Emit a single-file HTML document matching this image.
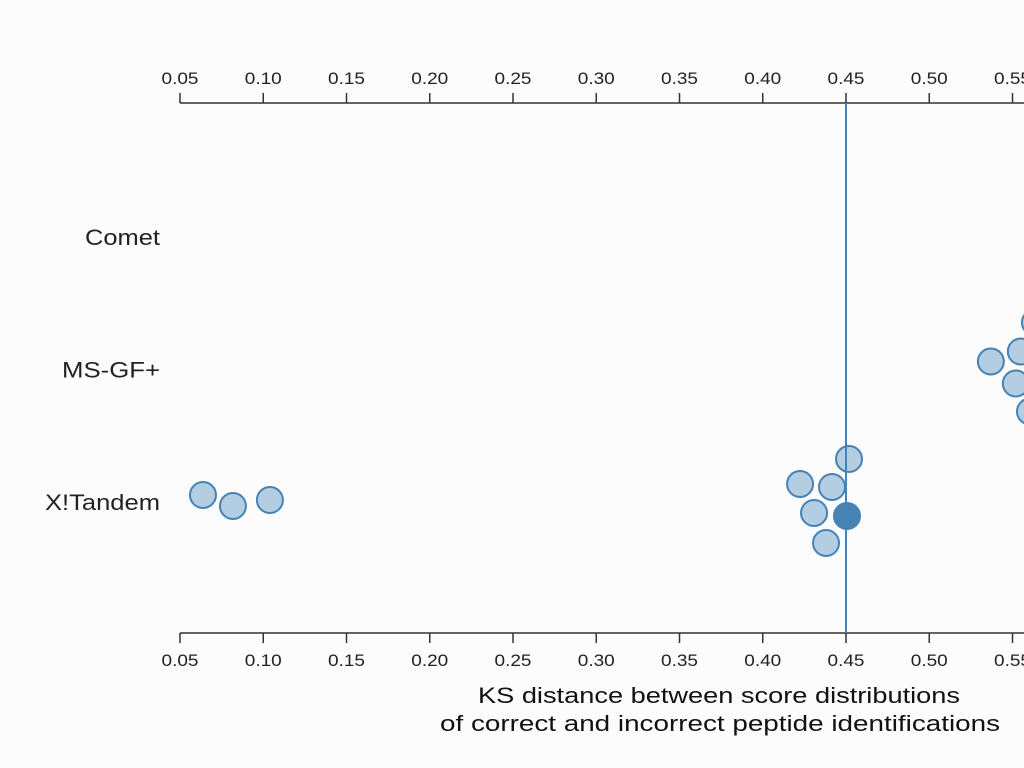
<!DOCTYPE html>
<html><head><meta charset="utf-8"><style>
html,body{margin:0;padding:0;background:#fcfcfc;overflow:hidden}
svg{display:block;font-family:"Liberation Sans",Helvetica,sans-serif}
</style></head><body>
<svg id="chart" width="1024" height="768">
<g id="axes"></g><g id="marks"></g>
</svg>
<script>
const categories = ["Comet", "MS-GF+", "X!Tandem"];
const pointCategory = ["MS-GF+","MS-GF+","MS-GF+","MS-GF+","MS-GF+","X!Tandem","X!Tandem","X!Tandem","X!Tandem","X!Tandem","X!Tandem","X!Tandem","X!Tandem","X!Tandem"];
const pointValues = [0.537,0.555,0.552,0.5605,0.5635,0.0638,0.0818,0.104,0.4224,0.4416,0.4518,0.4308,0.4506,0.438];
const pointJitter = [-8,-18,14,42,-47,-7,4,-2,-18,-15,-43,11,14,41];
const highlighted = [false,false,false,false,false,false,false,false,false,false,false,false,true,false];
const referenceValue = 0.45;
const ticks = [0.05,0.10,0.15,0.20,0.25,0.30,0.35,0.40,0.45,0.50,0.55,0.60];
const catWidths = {"Comet":75,"MS-GF+":98,"X!Tandem":115};

const NS="http://www.w3.org/2000/svg";
const x = v => 180 + (v-0.05)/0.05*83.25;
const y = c => 237 + categories.indexOf(c)*132.5;
const axes=document.getElementById('axes'), marks=document.getElementById('marks');
function mk(tag,attrs,parent){const e=document.createElementNS(NS,tag);for(const k in attrs)e.setAttribute(k,attrs[k]);parent.appendChild(e);return e;}

let l=mk('line',{x1:180,x2:1024,y1:103,y2:103,stroke:'#333','stroke-width':1.5},axes);


l=mk('line',{x1:180,x2:1024,y1:633,y2:633,stroke:'#333','stroke-width':1.5},axes);


ticks.forEach(t=>{
  const px=x(t);
  let a=mk('line',{x1:px,x2:px,y1:93,y2:103,stroke:'#333','stroke-width':1.5},axes);
  
  
  let b=mk('line',{x1:px,x2:px,y1:633,y2:643,stroke:'#333','stroke-width':1.5},axes);
  
  
  let tt=mk('text',{x:px-18.5,y:84,'font-size':17,fill:'#222',textLength:37,lengthAdjust:'spacingAndGlyphs'},axes);
  tt.textContent=t.toFixed(2);
  
  
  let bt=mk('text',{x:px-18.5,y:666,'font-size':17,fill:'#222',textLength:37,lengthAdjust:'spacingAndGlyphs'},axes);
  bt.textContent=t.toFixed(2);
  
  
});
categories.forEach(c=>{
  let t=mk('text',{x:160-catWidths[c],y:y(c)+8,'font-size':22,fill:'#222',textLength:catWidths[c],lengthAdjust:'spacingAndGlyphs'},axes);
  t.textContent=c;
  
  
});
let t1=mk('text',{x:478,y:703,'font-size':22,fill:'#111',textLength:482,lengthAdjust:'spacingAndGlyphs'},axes);
t1.textContent='KS distance between score distributions';


let t2=mk('text',{x:440,y:731,'font-size':22,fill:'#111',textLength:560,lengthAdjust:'spacingAndGlyphs'},axes);
t2.textContent='of correct and incorrect peptide identifications';



pointValues.forEach((v,i)=>{
  const c=mk('circle',{cx:x(v),cy:y(pointCategory[i])+pointJitter[i],r:13,
    fill:highlighted[i]?'#4682b4':'#b3cde3',stroke:'#4682b4','stroke-width':2},marks);
  
  
});
const rl=mk('line',{x1:x(referenceValue),x2:x(referenceValue),y1:103,y2:633,stroke:'#4682b4','stroke-width':2},marks);


</script>
</body></html>
